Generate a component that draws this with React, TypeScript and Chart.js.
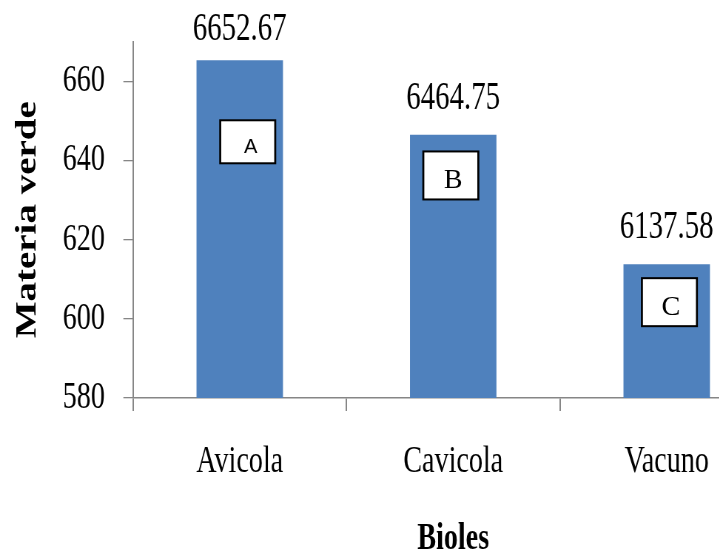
import React, { useEffect, useRef } from "react";
import { Chart, registerables } from "chart.js";

Chart.register(...registerables);

// Biol types and their green-matter yield
const categories = ["Avicola", "Cavicola", "Vacuno"];
const yieldValues = [6652.67, 6464.75, 6137.58];
// Significance letters shown on each bar
const groupLetters = ["A", "B", "C"];
// Axis ticks (values are shown divided by ten)
const yTickValues = [5800, 6000, 6200, 6400, 6600];
const yMin = 5800;
const yMax = 6700;

// The whole drawing is narrowed horizontally by this factor
const SX = 0.74;
const W = 1060;
const H = 562;

const SERIF = '"Liberation Serif", "Times New Roman", serif';
const SANS = '"Liberation Sans", Arial, sans-serif';
const BAR_BLUE = "#4F81BD";
const AXIS_GREY = "#868686";

// Placement of the letter boxes (screen pixels, centre value in data units)
const letterBoxStyle = [
  { dx: 8, value: 6447, w: 55, h: 43, font: `20px ${SANS}`, tx: 3, ty: 11 },
  { dx: -2.4, value: 6362, w: 55, h: 48, font: `28px ${SERIF}`, tx: 2.4, ty: 12.2 },
  { dx: 2.7, value: 6042, w: 55, h: 48, font: `28px ${SERIF}`, tx: 1.5, ty: 13 },
];

const annotations = {
  id: "barAnnotations",
  afterDatasetsDraw(chart: any) {
    const ctx = chart.ctx as CanvasRenderingContext2D;
    const meta = chart.getDatasetMeta(0);
    const yScale = chart.scales.y;
    ctx.save();
    // value labels above bars
    ctx.font = `39px ${SERIF}`;
    ctx.fillStyle = "#000";
    ctx.textAlign = "center";
    ctx.textBaseline = "alphabetic";
    meta.data.forEach((bar: any, i: number) => {
      const y = Math.max(bar.y - 26, 40);
      ctx.fillText(yieldValues[i].toFixed(2), bar.x, y);
    });
    // letter boxes, drawn at normal width
    meta.data.forEach((bar: any, i: number) => {
      const st = letterBoxStyle[i];
      const cx = bar.x + st.dx / SX;
      const cy = yScale.getPixelForValue(st.value);
      ctx.save();
      ctx.translate(cx, cy);
      ctx.scale(1 / SX, 1);
      ctx.fillStyle = "#fff";
      ctx.fillRect(-st.w / 2, -st.h / 2, st.w, st.h);
      ctx.strokeStyle = "#000";
      ctx.lineWidth = 2;
      ctx.strokeRect(-st.w / 2, -st.h / 2, st.w, st.h);
      ctx.fillStyle = "#000";
      ctx.font = st.font;
      ctx.textAlign = "center";
      ctx.textBaseline = "alphabetic";
      ctx.fillText(groupLetters[i], st.tx, st.ty);
      ctx.restore();
    });
    ctx.restore();
  },
};

export default function App() {
  const canvasRef = useRef<HTMLCanvasElement | null>(null);

  useEffect(() => {
    const canvas = canvasRef.current;
    if (!canvas) return;
    const chart = new Chart(canvas, {
      type: "bar",
      data: {
        labels: categories,
        datasets: [
          {
            data: yieldValues,
            backgroundColor: BAR_BLUE,
            borderWidth: 0,
            barPercentage: 0.405,
            categoryPercentage: 1,
          },
        ],
      },
      options: {
        responsive: false,
        animation: false,
        devicePixelRatio: 1,
        layout: { padding: { left: 0, right: W - 1045.2, top: 41.6, bottom: 0 } },
        plugins: {
          legend: { display: false },
          tooltip: { enabled: false },
          title: { display: false },
        },
        scales: {
          x: {
            offset: true,
            grid: {
              offset: true,
              drawOnChartArea: false,
              drawTicks: true,
              tickLength: 13,
              color: AXIS_GREY,
              lineWidth: 2,
            },
            border: { display: true, color: AXIS_GREY, width: 1.5 },
            ticks: {
              padding: 28.5,
              color: "#000",
              maxRotation: 0,
              autoSkip: false,
              font: { family: SERIF, size: 38 },
            },
            title: {
              display: true,
              text: "Bioles",
              color: "#000",
              font: { family: SERIF, size: 38, weight: "bold" },
              padding: { top: 0, bottom: 0 },
            },
            afterFit: (scale: any) => {
              scale.height = H - 398;
              scale.paddingLeft = 0;
              scale.paddingRight = 0;
            },
          },
          y: {
            min: yMin,
            max: yMax,
            afterBuildTicks: (scale: any) => {
              scale.ticks = yTickValues.map((v) => ({ value: v }));
            },
            grid: {
              drawOnChartArea: false,
              drawTicks: true,
              tickLength: 13,
              color: AXIS_GREY,
              lineWidth: 1.3,
            },
            border: { display: true, color: AXIS_GREY, width: 2 },
            ticks: {
              padding: 25,
              color: "#000",
              font: { family: SERIF, size: 38 },
              callback: (v: any) => String(Number(v) / 10),
            },
            title: {
              display: true,
              text: "Materia verde",
              color: "#000",
              font: { family: SERIF, size: 39, weight: "bold" },
              padding: { top: 14.6, bottom: 0 },
            },
            afterFit: (scale: any) => {
              scale.width = 179.7;
              scale.paddingTop = 0;
              scale.paddingBottom = 0;
            },
          },
        },
      },
      plugins: [annotations],
    });
    return () => chart.destroy();
  }, []);

  return (
    <div
      style={{
        position: "fixed",
        left: 0,
        top: 0,
        width: 719,
        height: 550,
        overflow: "hidden",
        background: "#fff",
      }}
    >
      <canvas
        ref={canvasRef}
        width={W}
        height={H}
        style={{
          display: "block",
          width: W,
          height: H,
          transform: `scaleX(${SX})`,
          transformOrigin: "0 0",
        }}
      />
    </div>
  );
}
